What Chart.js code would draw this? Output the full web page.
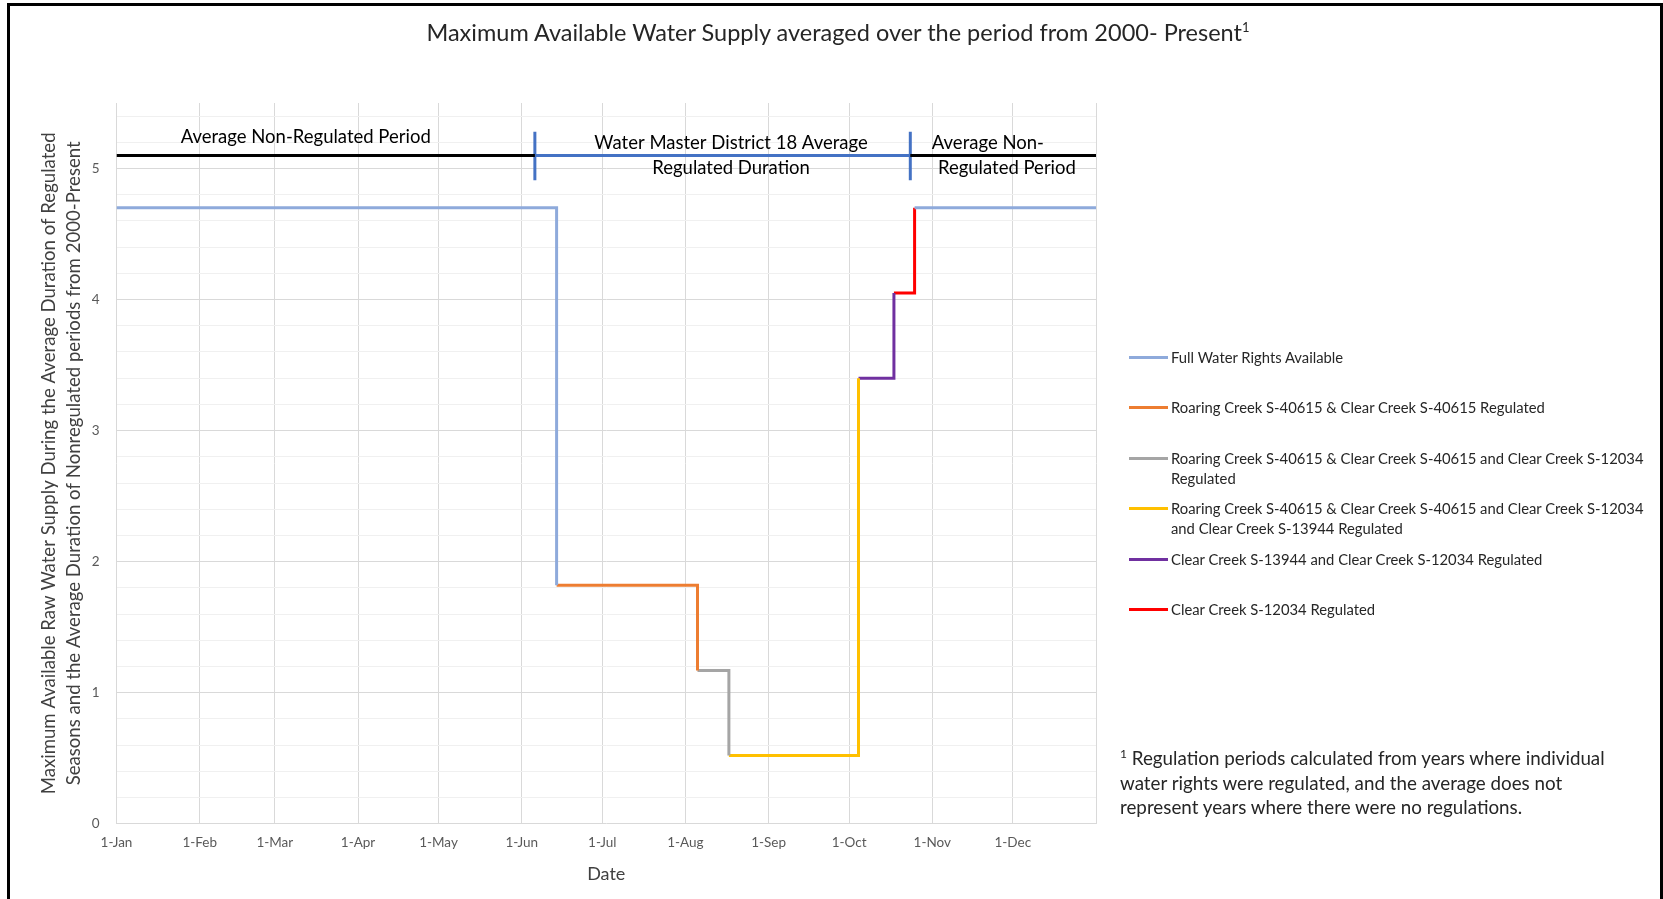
<!DOCTYPE html>
<html>
<head>
<meta charset="utf-8">
<script src="https://cdn.jsdelivr.net/npm/chart.js@4.4.1/dist/chart.umd.min.js"></script>
<style>
  html, body { margin: 0; padding: 0; background: #fff; }
  body { width: 1663px; height: 899px; position: relative; overflow: hidden; font-family: Lato, 'Open Sans', sans-serif; color: #262626; }
  #frame { position: absolute; left: 7px; top: 3px; width: 1656px; height: 910px; box-sizing: border-box;
           border-left: 3px solid #000; border-top: 3px solid #000; border-right: 3px solid #000; }
  #chart { position: absolute; left: 0; top: 0; }
  #title { position: absolute; left: 0; top: 18px; width: 1676px; text-align: center; font-size: 23.5px; line-height: 28px; color: #262626; }
  sup { line-height: 0; vertical-align: super; }
  #title sup { font-size: 13px; }
  #legend { position: absolute; left: 1129px; top: 0; }
  .item { position: absolute; left: 0; display: flex; align-items: flex-start; font-size: 14.8px; line-height: 20px; white-space: normal; }
  .swatch { width: 39px; height: 3px; margin-top: 9px; margin-right: 3px; flex: none; }
  .label { width: 478px; }
  #note { position: absolute; left: 1120px; top: 746px; font-size: 18.8px; line-height: 24.5px; color: #262626; }
  #note sup { font-size: 12px; }
</style>
</head>
<body>
<div id="frame"></div>
<canvas id="chart" width="1663" height="899"></canvas>
<div id="title">Maximum Available Water Supply averaged over the period from 2000- Present<sup>1</sup></div>
<div id="legend"></div>
<div id="note"><sup>1</sup> Regulation periods calculated from years where individual<br>water rights were regulated, and the average does not<br>represent years where there were no regulations.</div>
<script>
// x axis: day of the year, labels at the first of each month
const monthDays = [0, 31, 59, 90, 120, 151, 181, 212, 243, 273, 304, 334, 365];
const monthLabels = ['1-Jan', '1-Feb', '1-Mar', '1-Apr', '1-May', '1-Jun', '1-Jul', '1-Aug', '1-Sep', '1-Oct', '1-Nov', '1-Dec', ''];

// the supply curve: each level holds from stepDays[i] to stepDays[i+1]
const stepDays = [0, 164, 216.5, 228.2, 276.5, 289.7, 297.4, 365];
const stepLevels = [4.7, 1.82, 1.17, 0.52, 3.4, 4.05, 4.7];

const seriesNames = [
  'Full Water Rights Available',
  'Roaring Creek S-40615 & Clear Creek S-40615 Regulated',
  'Roaring Creek S-40615 & Clear Creek S-40615 and Clear Creek S-12034 Regulated',
  'Roaring Creek S-40615 & Clear Creek S-40615 and Clear Creek S-12034 and Clear Creek S-13944 Regulated',
  'Clear Creek S-13944 and Clear Creek S-12034 Regulated',
  'Clear Creek S-12034 Regulated'
];
const seriesColors = ['#8eaadb', '#ed7d31', '#a5a5a5', '#ffc000', '#7030a0', '#ff0000'];

// average regulated season (Water Master District 18) drawn above the curve
const regulatedStart = 155.9;
const regulatedEnd = 295.8;
const periodLevel = 5.1;
const capLow = 4.91;
const capHigh = 5.28;

const isWhole = v => Math.abs(v - Math.round(v)) < 1e-6;

// one step: flat at its level, then the jump to the next level
function stepPoints(i) {
  const pts = [{x: stepDays[i], y: stepLevels[i]}, {x: stepDays[i + 1], y: stepLevels[i]}];
  if (i + 1 < stepLevels.length) pts.push({x: stepDays[i + 1], y: stepLevels[i + 1]});
  return pts;
}

const lineStyle = {pointRadius: 0, borderWidth: 3, fill: false, tension: 0, borderJoinStyle: 'miter', borderCapStyle: 'butt', spanGaps: false};

const datasets = [];
// full rights: before and after the regulated season
datasets.push(Object.assign({
  label: seriesNames[0],
  data: stepPoints(0).concat([{x: stepDays[6], y: null}], stepPoints(6)),
  borderColor: seriesColors[0]
}, lineStyle));
for (let k = 1; k <= 5; k++) {
  datasets.push(Object.assign({label: seriesNames[k], data: stepPoints(k), borderColor: seriesColors[k]}, lineStyle));
}
datasets.push(Object.assign({
  label: 'non-regulated',
  data: [{x: 0, y: periodLevel}, {x: regulatedStart, y: periodLevel}, {x: regulatedStart, y: null},
         {x: regulatedEnd, y: periodLevel}, {x: 365, y: periodLevel}],
  borderColor: '#000000'
}, lineStyle));
datasets.push(Object.assign({
  label: 'regulated',
  data: [{x: regulatedStart, y: periodLevel}, {x: regulatedEnd, y: periodLevel}],
  borderColor: '#4472c4'
}, lineStyle));
datasets.push(Object.assign({
  label: 'caps',
  data: [{x: regulatedStart, y: capLow}, {x: regulatedStart, y: capHigh}, {x: regulatedStart, y: null},
         {x: regulatedEnd, y: capLow}, {x: regulatedEnd, y: capHigh}],
  borderColor: '#4472c4'
}, lineStyle));

const periodLabels = [
  {text: 'Average Non-Regulated Period', day: 70.5, level: 5.237},
  {text: 'Water Master District 18 Average', day: 229, level: 5.194},
  {text: 'Regulated Duration', day: 229, level: 5.003},
  {text: 'Average Non-', day: 324.7, level: 5.194},
  {text: 'Regulated Period', day: 331.8, level: 5.003}
];

const periodText = {
  id: 'periodText',
  afterDatasetsDraw(chart) {
    const {ctx, scales: {x, y}} = chart;
    ctx.save();
    ctx.font = '18.5px Lato';
    ctx.fillStyle = '#000';
    ctx.textAlign = 'center';
    ctx.textBaseline = 'middle';
    periodLabels.forEach(l => ctx.fillText(l.text, x.getPixelForValue(l.day), y.getPixelForValue(l.level)));
    ctx.restore();
  }
};

new Chart(document.getElementById('chart'), {
  type: 'line',
  data: {datasets: datasets},
  plugins: [periodText],
  options: {
    responsive: false,
    animation: false,
    devicePixelRatio: 1,
    layout: {padding: {left: 0, top: 103, right: 567, bottom: 0}},
    plugins: {legend: {display: false}, title: {display: false}, tooltip: {enabled: false}},
    scales: {
      x: {
        type: 'linear',
        min: 0,
        max: 365,
        afterBuildTicks: s => { s.ticks = monthDays.map(v => ({value: v})); },
        afterFit: s => { s.height = 75.3; },
        ticks: {
          autoSkip: false, maxRotation: 0, padding: 11.2, color: '#595959',
          font: {family: 'Lato', size: 13.5},
          callback: (v, i) => monthLabels[i]
        },
        grid: {color: '#d9d9d9', drawTicks: false},
        border: {display: false},
        title: {display: true, text: 'Date', color: '#404040', font: {family: 'Lato', size: 18}, padding: {top: 0, bottom: 14.2}}
      },
      y: {
        min: 0,
        max: 5.5,
        afterFit: s => { s.width = 116.5; },
        ticks: {
          stepSize: 0.2, includeBounds: false, autoSkip: false, padding: 17, color: '#595959',
          font: {family: 'Lato', size: 13.5},
          callback: v => isWhole(v) ? Math.round(v) : ''
        },
        grid: {color: c => isWhole(c.tick.value) ? '#d9d9d9' : '#f0f0f0', drawTicks: false},
        border: {display: false},
        title: {
          display: true,
          text: ['Maximum Available Raw Water Supply During the Average Duration of Regulated',
                 'Seasons and the Average Duration of Nonregulated periods from 2000-Present'],
          color: '#404040',
          font: {family: 'Lato', size: 18.6, lineHeight: 1.366},
          padding: {top: 36.1, bottom: 0}
        }
      }
    }
  }
});

// legend beside the plot
const legend = document.getElementById('legend');
seriesNames.forEach((name, i) => {
  const item = document.createElement('div');
  item.className = 'item';
  item.style.top = (346.7 + i * 50.5) + 'px';
  item.innerHTML = '<span class="swatch" style="background:' + seriesColors[i] + '"></span><span class="label"></span>';
  item.querySelector('.label').textContent = name;
  legend.appendChild(item);
});
</script>
</body>
</html>
